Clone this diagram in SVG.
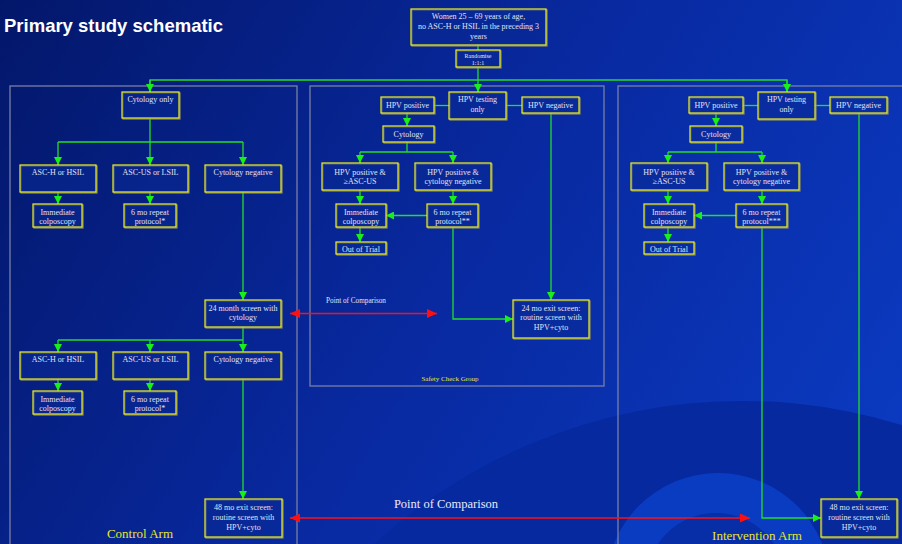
<svg xmlns="http://www.w3.org/2000/svg" width="902" height="544" viewBox="0 0 902 544">
<defs>
<linearGradient id="bg" x1="0" y1="0" x2="902" y2="544" gradientUnits="userSpaceOnUse">
<stop offset="0" stop-color="#03176a"/>
<stop offset="0.5" stop-color="#0829a0"/>
<stop offset="1" stop-color="#0b3cc4"/>
</linearGradient>
<marker id="ga" markerUnits="userSpaceOnUse" markerWidth="8" markerHeight="8" refX="8" refY="4" orient="auto"><path d="M0,0 L8,4 L0,8 z" fill="#18f018"/></marker>
<marker id="ra" markerUnits="userSpaceOnUse" markerWidth="10" markerHeight="9" refX="10" refY="4.5" orient="auto-start-reverse"><path d="M0,0 L10,4.5 L0,9 z" fill="#ff1010"/></marker>
</defs>
<style>
.frame{fill:none;stroke:#7880a4;stroke-width:1.3}
.sh{fill:none;stroke:#8e8e5a;stroke-width:1.2}
.bx{fill:#0a2a96;fill-opacity:0.55;stroke:#f2f21e;stroke-width:1.2}
.t{font-family:"Liberation Serif","Times New Roman",serif;font-size:8px;fill:#e0e2f2;text-anchor:middle}
.ts{font-family:"Liberation Serif","Times New Roman",serif;font-size:6px;fill:#e0e2f2;text-anchor:middle}
.c{fill:none;stroke:#22dd2a;stroke-width:1.3}
.ca{fill:none;stroke:#22dd2a;stroke-width:1.3;marker-end:url(#ga)}
.r{fill:none;stroke:#ff1010;stroke-width:1.3;marker-start:url(#ra);marker-end:url(#ra)}
.lab{font-family:"Liberation Serif","Times New Roman",serif;fill:#e8e62a;text-anchor:middle}
</style>
<rect width="902" height="544" fill="url(#bg)"/>
<circle cx="742" cy="945" r="544" fill="#0629a0"/>
<circle cx="718" cy="585" r="112" fill="#0a3cc2"/>
<circle cx="716" cy="583" r="70" fill="#072ea6"/>
<text x="4" y="32" font-family="Liberation Sans, Arial, sans-serif" font-weight="bold" font-size="18.5" fill="#ffffff">Primary study schematic</text>

<g id="frames">
<rect class="frame" x="10" y="86" width="287" height="470"/>
<rect class="frame" x="310" y="86" width="294" height="300"/>
<rect class="frame" x="618" y="86" width="300" height="470"/>
</g>
<text class="lab" x="140" y="538" font-size="13">Control Arm</text>
<text class="lab" x="450" y="380.5" font-size="7">Safety Check Group</text>
<text class="lab" x="757" y="540" font-size="13">Intervention Arm</text>
<text x="446" y="508" font-family="Liberation Serif, Times New Roman, serif" font-size="12.5" fill="#e8eaf8" text-anchor="middle">Point of Comparison</text>
<text x="356" y="302.5" font-family="Liberation Serif, Times New Roman, serif" font-size="7.2" fill="#e0e2f2" text-anchor="middle">Point of Comparison</text>

<g id="connectors">
<line class="c" x1="478" y1="45" x2="478" y2="50"/>
<line class="ca" x1="478" y1="67" x2="478" y2="92"/>
<polyline class="c" points="150,92 150,80 787,80 787,92"/>
<line class="ca" x1="150" y1="80" x2="150" y2="92"/>
<line class="ca" x1="787" y1="80" x2="787" y2="92"/>
<line class="c" x1="150" y1="119" x2="150" y2="142"/>
<line class="c" x1="58" y1="142" x2="243" y2="142"/>
<line class="ca" x1="58" y1="142" x2="58" y2="165"/>
<line class="ca" x1="150" y1="142" x2="150" y2="165"/>
<line class="ca" x1="243" y1="142" x2="243" y2="165"/>
<line class="ca" x1="58" y1="192" x2="58" y2="204"/>
<line class="ca" x1="150" y1="192" x2="150" y2="204"/>
<line class="ca" x1="243" y1="192" x2="243" y2="300"/>
<line class="ca" x1="243" y1="327" x2="243" y2="352"/>
<line class="c" x1="58" y1="340" x2="243" y2="340"/>
<line class="ca" x1="58" y1="340" x2="58" y2="352"/>
<line class="ca" x1="150" y1="340" x2="150" y2="352"/>
<line class="ca" x1="58" y1="379" x2="58" y2="391"/>
<line class="ca" x1="150" y1="379" x2="150" y2="391"/>
<line class="ca" x1="243" y1="379" x2="243" y2="499"/>
<line class="c" x1="434" y1="105.5" x2="449" y2="105.5"/>
<line class="c" x1="506" y1="105.5" x2="522" y2="105.5"/>
<line class="ca" x1="407" y1="113" x2="407" y2="126"/>
<line class="c" x1="407" y1="142" x2="407" y2="152"/>
<line class="c" x1="360" y1="152" x2="453" y2="152"/>
<line class="ca" x1="360" y1="152" x2="360" y2="163"/>
<line class="ca" x1="453" y1="152" x2="453" y2="163"/>
<line class="ca" x1="360" y1="190" x2="360" y2="204"/>
<line class="ca" x1="453" y1="190" x2="453" y2="204"/>
<line class="ca" x1="427" y1="215.5" x2="386" y2="215.5"/>
<line class="ca" x1="360" y1="227" x2="360" y2="242"/>
<line class="ca" x1="551" y1="113" x2="551" y2="300"/>
<polyline class="ca" points="453,227 453,319 513,319"/>
<line class="r" x1="290" y1="313.5" x2="437" y2="313.5"/>
<line class="c" x1="743" y1="105.5" x2="758" y2="105.5"/>
<line class="c" x1="815" y1="105.5" x2="830" y2="105.5"/>
<line class="ca" x1="716" y1="113" x2="716" y2="126"/>
<line class="c" x1="716" y1="142" x2="716" y2="152"/>
<line class="c" x1="668" y1="152" x2="762" y2="152"/>
<line class="ca" x1="668" y1="152" x2="668" y2="163"/>
<line class="ca" x1="762" y1="152" x2="762" y2="163"/>
<line class="ca" x1="668" y1="190" x2="668" y2="204"/>
<line class="ca" x1="762" y1="190" x2="762" y2="204"/>
<line class="ca" x1="736" y1="215.5" x2="694" y2="215.5"/>
<line class="ca" x1="668" y1="227" x2="668" y2="242"/>
<line class="ca" x1="859" y1="113" x2="859" y2="499"/>
<polyline class="ca" points="762,227 762,518 821,518"/>
<line class="r" x1="290" y1="518" x2="750" y2="518"/>
</g>

<g id="n-women"><rect class="sh" x="412" y="10" width="135" height="36"/><rect class="bx" x="411" y="9" width="135" height="36"/>
<text class="t" x="478.5" y="19">Women 25 – 69 years of age,</text><text class="t" x="478.5" y="29">no ASC-H or HSIL in the preceding 3</text><text class="t" x="478.5" y="39">years</text></g>
<g id="n-randomise"><rect class="sh" x="457" y="51" width="44" height="17"/><rect class="bx" x="456" y="50" width="44" height="17"/>
<text class="ts" x="478" y="57.5">Randomise</text><text class="ts" x="478" y="65">1:1:1</text></g>

<g id="n-cytology-only"><rect class="sh" x="123" y="93" width="57" height="26"/><rect class="bx" x="122" y="92" width="57" height="26"/><text class="t" x="150.5" y="102">Cytology only</text></g>
<g id="n-c-aschsil-1"><rect class="sh" x="21" y="166" width="76" height="27"/><rect class="bx" x="20" y="165" width="76" height="27"/><text class="t" x="58" y="175">ASC-H or HSIL</text></g>
<g id="n-c-ascus-1"><rect class="sh" x="114" y="166" width="75" height="27"/><rect class="bx" x="113" y="165" width="75" height="27"/><text class="t" x="150.5" y="175">ASC-US or LSIL</text></g>
<g id="n-c-neg-1"><rect class="sh" x="206" y="166" width="76" height="27"/><rect class="bx" x="205" y="165" width="76" height="27"/><text class="t" x="243" y="175">Cytology negative</text></g>
<g id="n-c-colpo-1"><rect class="sh" x="34" y="205" width="49" height="23"/><rect class="bx" x="33" y="204" width="49" height="23"/><text class="t" x="57.5" y="214.5">Immediate</text><text class="t" x="57.5" y="224">colposcopy</text></g>
<g id="n-c-rep-1"><rect class="sh" x="125" y="205" width="52" height="23"/><rect class="bx" x="124" y="204" width="52" height="23"/><text class="t" x="150" y="214.5">6 mo repeat</text><text class="t" x="150" y="224">protocol*</text></g>
<g id="n-c-24m"><rect class="sh" x="206" y="301" width="76" height="27"/><rect class="bx" x="205" y="300" width="76" height="27"/><text class="t" x="243" y="311">24 month screen with</text><text class="t" x="243" y="320">cytology</text></g>
<g id="n-c-aschsil-2"><rect class="sh" x="21" y="353" width="76" height="27"/><rect class="bx" x="20" y="352" width="76" height="27"/><text class="t" x="58" y="362">ASC-H or HSIL</text></g>
<g id="n-c-ascus-2"><rect class="sh" x="114" y="353" width="75" height="27"/><rect class="bx" x="113" y="352" width="75" height="27"/><text class="t" x="150.5" y="362">ASC-US or LSIL</text></g>
<g id="n-c-neg-2"><rect class="sh" x="206" y="353" width="76" height="27"/><rect class="bx" x="205" y="352" width="76" height="27"/><text class="t" x="243" y="362">Cytology negative</text></g>
<g id="n-c-colpo-2"><rect class="sh" x="34" y="392" width="49" height="23"/><rect class="bx" x="33" y="391" width="49" height="23"/><text class="t" x="57.5" y="401.5">Immediate</text><text class="t" x="57.5" y="411">colposcopy</text></g>
<g id="n-c-rep-2"><rect class="sh" x="125" y="392" width="52" height="23"/><rect class="bx" x="124" y="391" width="52" height="23"/><text class="t" x="150" y="401.5">6 mo repeat</text><text class="t" x="150" y="411">protocol*</text></g>
<g id="n-c-48m"><rect class="sh" x="206" y="500" width="77" height="38"/><rect class="bx" x="205" y="499" width="77" height="38"/><text class="t" x="243.5" y="509.5">48 mo exit screen:</text><text class="t" x="243.5" y="519.5">routine screen with</text><text class="t" x="243.5" y="529.5">HPV+cyto</text></g>

<g id="n-s-hpvonly"><rect class="sh" x="450" y="93" width="57" height="27"/><rect class="bx" x="449" y="92" width="57" height="27"/><text class="t" x="477.5" y="102">HPV testing</text><text class="t" x="477.5" y="112">only</text></g>
<g id="n-s-pos"><rect class="sh" x="382" y="98" width="53" height="16"/><rect class="bx" x="381" y="97" width="53" height="16"/><text class="t" x="407.5" y="108">HPV positive</text></g>
<g id="n-s-neg"><rect class="sh" x="523" y="98" width="57" height="16"/><rect class="bx" x="522" y="97" width="57" height="16"/><text class="t" x="550.5" y="108">HPV negative</text></g>
<g id="n-s-cyto"><rect class="sh" x="384" y="127" width="51" height="16"/><rect class="bx" x="383" y="126" width="51" height="16"/><text class="t" x="408.5" y="137">Cytology</text></g>
<g id="n-s-posasc"><rect class="sh" x="323" y="164" width="76" height="27"/><rect class="bx" x="322" y="163" width="76" height="27"/><text class="t" x="360" y="174.5">HPV positive &amp;</text><text class="t" x="360" y="183.5">≥ASC-US</text></g>
<g id="n-s-posneg"><rect class="sh" x="416" y="164" width="76" height="27"/><rect class="bx" x="415" y="163" width="76" height="27"/><text class="t" x="453" y="174.5">HPV positive &amp;</text><text class="t" x="453" y="183.5">cytology negative</text></g>
<g id="n-s-colpo"><rect class="sh" x="337" y="205" width="50" height="23"/><rect class="bx" x="336" y="204" width="50" height="23"/><text class="t" x="361" y="214.5">Immediate</text><text class="t" x="361" y="224">colposcopy</text></g>
<g id="n-s-rep"><rect class="sh" x="428" y="205" width="51" height="23"/><rect class="bx" x="427" y="204" width="51" height="23"/><text class="t" x="452.5" y="214.5">6 mo repeat</text><text class="t" x="452.5" y="224">protocol**</text></g>
<g id="n-s-out"><rect class="sh" x="337" y="243" width="50" height="12"/><rect class="bx" x="336" y="242" width="50" height="12"/><text class="t" x="361" y="251.5">Out of Trial</text></g>
<g id="n-s-24m"><rect class="sh" x="514" y="301" width="76" height="38"/><rect class="bx" x="513" y="300" width="76" height="38"/><text class="t" x="551" y="310.5">24 mo exit screen:</text><text class="t" x="551" y="320">routine screen with</text><text class="t" x="551" y="330">HPV+cyto</text></g>

<g id="n-i-hpvonly"><rect class="sh" x="759" y="93" width="57" height="27"/><rect class="bx" x="758" y="92" width="57" height="27"/><text class="t" x="786.5" y="102">HPV testing</text><text class="t" x="786.5" y="112">only</text></g>
<g id="n-i-pos"><rect class="sh" x="690" y="98" width="54" height="16"/><rect class="bx" x="689" y="97" width="54" height="16"/><text class="t" x="716" y="108">HPV positive</text></g>
<g id="n-i-neg"><rect class="sh" x="831" y="98" width="57" height="16"/><rect class="bx" x="830" y="97" width="57" height="16"/><text class="t" x="858.5" y="108">HPV negative</text></g>
<g id="n-i-cyto"><rect class="sh" x="691" y="127" width="52" height="16"/><rect class="bx" x="690" y="126" width="52" height="16"/><text class="t" x="716" y="137">Cytology</text></g>
<g id="n-i-posasc"><rect class="sh" x="632" y="164" width="76" height="27"/><rect class="bx" x="631" y="163" width="76" height="27"/><text class="t" x="669" y="174.5">HPV positive &amp;</text><text class="t" x="669" y="183.5">≥ASC-US</text></g>
<g id="n-i-posneg"><rect class="sh" x="725" y="164" width="75" height="27"/><rect class="bx" x="724" y="163" width="75" height="27"/><text class="t" x="761.5" y="174.5">HPV positive &amp;</text><text class="t" x="761.5" y="183.5">cytology negative</text></g>
<g id="n-i-colpo"><rect class="sh" x="645" y="205" width="50" height="23"/><rect class="bx" x="644" y="204" width="50" height="23"/><text class="t" x="669" y="214.5">Immediate</text><text class="t" x="669" y="224">colposcopy</text></g>
<g id="n-i-rep"><rect class="sh" x="737" y="205" width="51" height="23"/><rect class="bx" x="736" y="204" width="51" height="23"/><text class="t" x="761.5" y="214.5">6 mo repeat</text><text class="t" x="761.5" y="224">protocol***</text></g>
<g id="n-i-out"><rect class="sh" x="645" y="243" width="50" height="12"/><rect class="bx" x="644" y="242" width="50" height="12"/><text class="t" x="669" y="251.5">Out of Trial</text></g>
<g id="n-i-48m"><rect class="sh" x="822" y="500" width="76" height="38"/><rect class="bx" x="821" y="499" width="76" height="38"/><text class="t" x="859" y="509.5">48 mo exit screen:</text><text class="t" x="859" y="519.5">routine screen with</text><text class="t" x="859" y="529.5">HPV+cyto</text></g>
</svg>
